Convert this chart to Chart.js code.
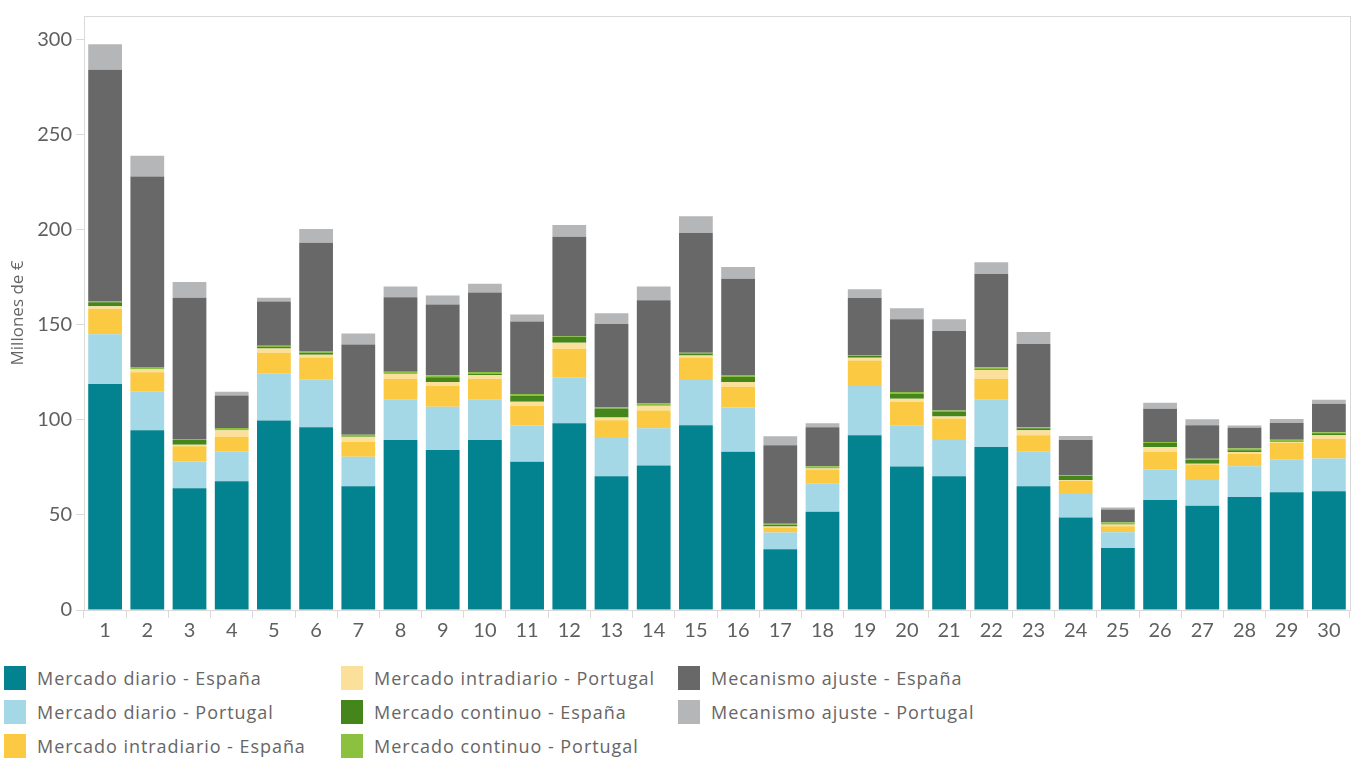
<!DOCTYPE html>
<html>
<head>
<meta charset="utf-8">
<script src="https://cdn.jsdelivr.net/npm/chart.js@4.4.1/dist/chart.umd.min.js"></script>
<style>
  body { margin: 0; background: #fff; font-family: "Open Sans", sans-serif; }
  #wrap { position: relative; width: 1358px; height: 761px; }
  #chartBox { position: absolute; left: 0; top: 0; width: 1358px; height: 648px; }
  .legend { position: absolute; left: 0; top: 0; }
  .item { position: absolute; display: flex; align-items: center; height: 24px; font-size: 18px; letter-spacing: 0.95px; color: #666; white-space: nowrap; }
  .sw { width: 22px; height: 24px; margin-right: 11px; }
</style>
</head>
<body>
<div id="wrap">
  <div id="chartBox"><canvas id="chart"></canvas></div>
  <div class="legend" id="legend"></div>
</div>
<script>
// dias del mes
const labels = ['1','2','3','4','5','6','7','8','9','10','11','12','13','14','15','16','17','18','19','20','21','22','23','24','25','26','27','28','29','30'];

// valores en millones de euros
const diarioES = [118.9, 94.6, 64.1, 67.7, 99.7, 96.1, 65.1, 89.4, 84.2, 89.4, 78.0, 98.2, 70.3, 76.0, 97.2, 83.2, 32.0, 51.7, 92.0, 75.5, 70.3, 85.8, 65.1, 48.6, 32.6, 57.9, 54.8, 59.4, 62.0, 62.5];
const diarioPT = [26.2, 20.5, 14.0, 15.5, 24.8, 25.0, 15.5, 21.2, 22.7, 21.2, 19.1, 24.3, 20.2, 19.6, 24.3, 23.3, 8.8, 15.0, 25.8, 21.7, 19.6, 24.8, 18.1, 12.9, 8.3, 16.0, 13.6, 16.2, 17.1, 17.2];
const intraES = [13.2, 10.0, 8.1, 7.9, 10.9, 11.7, 7.8, 10.9, 10.9, 10.9, 10.3, 15.0, 9.3, 9.3, 11.4, 10.9, 2.6, 7.2, 13.4, 12.4, 10.9, 10.9, 8.8, 6.4, 3.1, 9.3, 8.1, 6.5, 8.8, 10.2];
const intraPT = [1.5, 1.5, 0.8, 3.4, 2.2, 1.5, 2.6, 2.6, 2.1, 2.1, 2.1, 3.1, 1.5, 2.6, 1.0, 2.6, 0.5, 0.5, 1.5, 1.5, 1.0, 4.7, 2.6, 0.5, 1.0, 2.6, 0.5, 1.0, 0.5, 2.1];
const continuoES = [2.1, 0.2, 2.4, 0.2, 0.7, 1.0, 0.2, 0.2, 2.6, 0.7, 3.1, 3.1, 4.7, 0.2, 1.0, 2.6, 1.0, 0.2, 1.0, 2.6, 2.6, 0.5, 1.0, 2.1, 0.2, 2.1, 2.1, 1.0, 0.2, 1.0];
const continuoPT = [0.7, 1.0, 0.5, 1.0, 0.7, 1.0, 1.0, 1.0, 1.0, 0.9, 1.0, 0.5, 0.5, 1.0, 0.5, 1.0, 0.5, 1.0, 0.5, 1.0, 0.5, 1.0, 0.5, 0.3, 1.0, 0.5, 0.5, 1.0, 1.0, 0.5];
const ajusteES = [121.6, 100.3, 74.4, 17.1, 23.3, 56.9, 47.5, 39.2, 37.2, 41.8, 38.2, 52.2, 43.9, 54.3, 63.0, 50.7, 41.3, 20.6, 29.9, 38.3, 41.9, 49.1, 43.9, 18.6, 6.7, 17.5, 17.6, 10.8, 8.8, 15.0];
const ajustePT = [13.5, 10.9, 8.3, 2.0, 2.0, 7.2, 5.7, 5.7, 4.7, 4.7, 3.7, 6.2, 5.7, 7.2, 8.8, 6.2, 4.7, 2.1, 4.7, 5.7, 6.2, 6.2, 6.3, 2.1, 1.0, 3.1, 3.1, 1.1, 2.1, 2.1];

const seriesNames = ['Mercado diario - España', 'Mercado diario - Portugal', 'Mercado intradiario - España', 'Mercado intradiario - Portugal', 'Mercado continuo - España', 'Mercado continuo - Portugal', 'Mecanismo ajuste - España', 'Mecanismo ajuste - Portugal'];
const seriesData = [diarioES, diarioPT, intraES, intraPT, continuoES, continuoPT, ajusteES, ajustePT];
const colors = ['#02838f', '#a5d8e6', '#fbc942', '#fae09a', '#45861c', '#8bc13f', '#686868', '#b5b6b8'];

const yTicks = [0, 50, 100, 150, 200, 250, 300];
const yMax = 312.5;

// marco gris alrededor del area del grafico
const framePlugin = {
    id: 'frame',
    afterDraw(chart) {
        const { ctx, chartArea: a } = chart;
        ctx.save();
        ctx.strokeStyle = '#d9d9d9';
        ctx.lineWidth = 1;
        ctx.strokeRect(Math.round(a.left) + 0.5, Math.round(a.top) + 0.5, Math.round(a.right - a.left), Math.round(a.bottom - a.top));
        ctx.restore();
    }
};

const ctx = document.getElementById('chart').getContext('2d');
new Chart(ctx, {
    type: 'bar',
    data: {
        labels: labels,
        datasets: seriesData.map((d, i) => ({
            label: seriesNames[i],
            data: d,
            backgroundColor: colors[i],
            borderWidth: 0,
            categoryPercentage: 0.8,
            barPercentage: 1.0,
        })),
    },
    options: {
        responsive: true,
        maintainAspectRatio: false,
        animation: false,
        layout: { padding: { top: 5, right: 8, left: 0, bottom: 0 } },
        plugins: {
            legend: { display: false },
            tooltip: { enabled: false },
        },
        scales: {
            x: {
                stacked: true,
                grid: { display: true, offset: true, drawOnChartArea: false, drawTicks: true, tickLength: 8, color: '#d9d9d9' },
                border: { display: true, color: '#d9d9d9' },
                ticks: { color: '#5f5f5f', font: { family: 'Lato', size: 20 }, padding: 1, maxRotation: 0, autoSkip: false },
                afterFit(scale) { scale.height = 38; },
            },
            y: {
                stacked: true,
                min: 0,
                max: yMax,
                afterBuildTicks(scale) { scale.ticks = yTicks.map(v => ({ value: v })); },
                grid: { display: true, drawOnChartArea: false, drawTicks: true, tickLength: 8, color: '#d9d9d9' },
                border: { display: true, color: '#d9d9d9' },
                ticks: { color: '#5f5f5f', font: { family: 'Lato', size: 20 }, padding: 4 },
                title: { display: true, text: 'Millones de €', color: '#666', font: { family: 'Open Sans', size: 17 }, padding: { top: 8, bottom: 0 } },
                afterFit(scale) { scale.width = 84; },
            },
        },
    },
    plugins: [framePlugin],
});

// leyenda en tres columnas
const legendEl = document.getElementById('legend');
const colX = [4, 341, 678];
const rowY = [666, 700, 734];
seriesNames.forEach((name, i) => {
    const col = Math.floor(i / 3), row = i % 3;
    const item = document.createElement('div');
    item.className = 'item';
    item.style.left = colX[col] + 'px';
    item.style.top = rowY[row] + 'px';
    item.innerHTML = '<div class="sw" style="background:' + colors[i] + '"></div><span>' + name + '</span>';
    legendEl.appendChild(item);
});
</script>
</body>
</html>
